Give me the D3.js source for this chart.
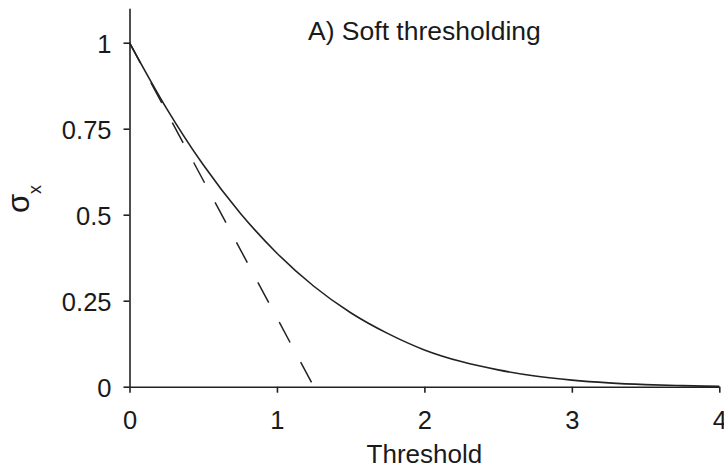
<!DOCTYPE html>
<html>
<head>
<meta charset="utf-8">
<script src="https://d3js.org/d3.v7.min.js"></script>
<style>
  body { margin: 0; background: #fff; }
  svg { font-family: "Liberation Sans", Arial, sans-serif; }
  .axis path, .axis line { stroke: #222; stroke-width: 1.6; }
  .axis text { font-size: 25.5px; fill: #1a1a1a; }
</style>
</head>
<body>
<svg id="chart" width="724" height="470"></svg>
<script>
// values
var thresholds = [0, 0.25, 0.5, 0.75, 1, 1.25, 1.5, 1.75, 2, 2.25, 2.5, 2.75, 3, 3.25, 3.5, 3.75, 4];
var sigmaSoft  = [1, 0.81, 0.645, 0.505, 0.388, 0.292, 0.215, 0.155, 0.107, 0.073, 0.049, 0.031, 0.019, 0.011, 0.006, 0.003, 0.001];
var tangentX = [0, 1.25];
var tangentY = [1, 0];

var xTicks = [0, 1, 2, 3, 4];
var xTickLabels = ["0", "1", "2", "3", "4"];
var yTicks = [0, 0.25, 0.5, 0.75, 1];
var yTickLabels = ["0", "0.25", "0.5", "0.75", "1"];

var titleText = "A) Soft thresholding";
var xLabel = "Threshold";

var svg = d3.select("#chart");
var plotLeft = 129.5, plotRight = 719.3, plotBottom = 386.7, plotTop = 8.3;

var x = d3.scaleLinear().domain([0, 4]).range([plotLeft, plotRight]);
var y = d3.scaleLinear().domain([0, 1.1]).range([plotBottom, plotTop]);

// y axis
var yAxis = d3.axisLeft(y)
  .tickValues(yTicks)
  .tickFormat(function(d, i) { return yTickLabels[i]; })
  .tickSize(6).tickSizeOuter(0).tickPadding(12);
svg.append("g").attr("class", "axis")
  .attr("transform", "translate(" + plotLeft + ",0)")
  .call(yAxis)
  .selectAll("text").attr("dy", "0.4em");

// x axis
var xAxis = d3.axisBottom(x)
  .tickValues(xTicks)
  .tickFormat(function(d, i) { return xTickLabels[i]; })
  .tickSize(6).tickSizeOuter(0).tickPadding(18.5);
svg.append("g").attr("class", "axis")
  .attr("transform", "translate(0," + plotBottom + ")")
  .call(xAxis);

// curves
var line = d3.line()
  .x(function(d) { return x(d[0]); })
  .y(function(d) { return y(d[1]); })
  .curve(d3.curveMonotoneX);

svg.append("path")
  .datum(thresholds.map(function(t, i) { return [t, sigmaSoft[i]]; }))
  .attr("d", line)
  .attr("fill", "none")
  .attr("stroke", "#222")
  .attr("stroke-width", 1.6);

svg.append("path")
  .datum(tangentX.map(function(t, i) { return [t, tangentY[i]]; }))
  .attr("d", d3.line().x(function(d) { return x(d[0]); }).y(function(d) { return y(d[1]); }))
  .attr("fill", "none")
  .attr("stroke", "#222")
  .attr("stroke-width", 1.5)
  .attr("stroke-dasharray", "23,22.3");

// title
svg.append("text")
  .attr("x", 308).attr("y", 39.5)
  .style("font-size", "26.5px")
  .style("fill", "#1a1a1a")
  .text(titleText);

// x label
svg.append("text")
  .attr("x", x(2)).attr("y", 463.3)
  .attr("text-anchor", "middle")
  .style("font-size", "26px")
  .style("fill", "#1a1a1a")
  .text(xLabel);

// y label: sigma with subscript x
var yl = svg.append("text")
  .attr("transform", "translate(28.5,199) rotate(-90)")
  .attr("text-anchor", "middle")
  .style("fill", "#1a1a1a");
yl.append("tspan").style("font-size", "31px").text("σ");
yl.append("tspan").style("font-size", "18px").attr("dy", 12).text("x");
</script>
</body>
</html>
